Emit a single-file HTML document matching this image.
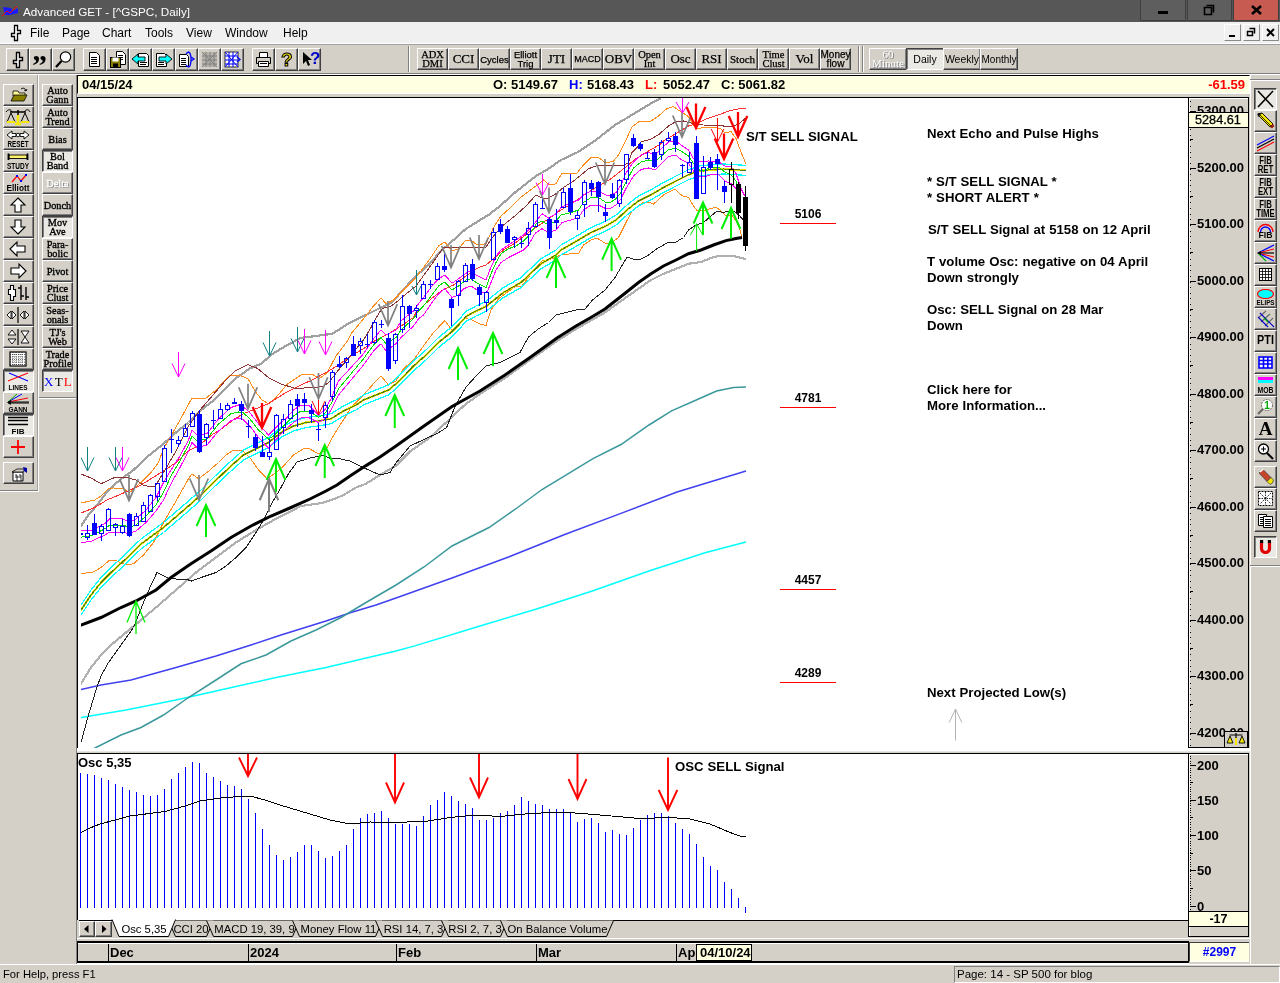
<!DOCTYPE html>
<html><head><meta charset="utf-8"><title>Advanced GET - [^GSPC, Daily]</title>
<style>
*{box-sizing:border-box;margin:0;padding:0}
html,body{width:1280px;height:983px;overflow:hidden;background:#d4d0c8;font-family:"Liberation Sans",sans-serif;font-size:12px;color:#000}
.a{position:absolute}
.tb{position:absolute;background:#d4d0c8;border:1px solid;border-color:#fff #404040 #404040 #fff;box-shadow:inset -1px -1px 0 #808080}
.tb.p{border-color:#404040 #fff #fff #404040;box-shadow:inset 1px 1px 0 #808080;background:#ebe9e4}
.tb svg{position:absolute;left:0;top:0}
.st{font-family:"Liberation Serif",serif;font-size:11px;line-height:9px;text-align:center;display:flex;align-items:center;justify-content:center;letter-spacing:.3px}
.ann{position:absolute;font-weight:bold;font-size:13.2px;line-height:16px;white-space:pre;word-spacing:.3px}
.sc{position:absolute;font-weight:bold;font-size:13px;line-height:14px;left:1197px;white-space:pre}
.lv{position:absolute;font-weight:bold;font-size:12px;width:56px;text-align:center;border-bottom:1px solid #f00;height:17px;line-height:14px}
.cream{background:#ffffe1}
</style></head>
<body>
<div class="a" style="left:0;top:0;width:1280px;height:22px;background:#575757"></div>
<svg class="a" style="left:2px;top:5px" width="18" height="12"><polygon points="1,2 9,3 11,6 16,3 16,8 8,10 3,10" fill="#1a1aff"/><polyline points="0,11 5,6 8,8 15,1" stroke="#f00" fill="none" stroke-width="1"/></svg>
<div class="a" style="left:23px;top:3px;font-size:11.7px;color:#fff;line-height:18px">Advanced GET - [^GSPC, Daily]</div>
<div class="a" style="left:1140px;top:0;width:46px;height:21px;background:#5e5e5e;border:1px solid #3f3f3f;border-top:0"></div>
<div class="a" style="left:1187px;top:0;width:45px;height:21px;background:#5e5e5e;border:1px solid #3f3f3f;border-top:0"></div>
<div class="a" style="left:1233px;top:0;width:46px;height:21px;background:#c75b52;border:1px solid #3f3f3f;border-top:0"></div>
<div class="a" style="left:1158px;top:11px;width:10px;height:3px;background:#000"></div>
<svg class="a" style="left:1203px;top:4px" width="13" height="13"><path d="M3.5 1.5h7v7M1.5 3.5h7v7h-7z" stroke="#000" stroke-width="1.6" fill="none"/></svg>
<svg class="a" style="left:1251px;top:5px" width="11" height="10"><path d="M1 1L10 9M10 1L1 9" stroke="#000" stroke-width="2.6" fill="none"/></svg>
<div class="a" style="left:0;top:22px;width:1280px;height:21px;background:#f0f0f0"></div>
<div class="a" style="left:0;top:43px;width:1280px;height:1px;background:#fff"></div>
<div class="a" style="left:0;top:44px;width:1280px;height:1px;background:#a0a0a0"></div>
<svg class="a" style="left:8px;top:24px" width="14" height="18"><path d="M6.500 1.500h3v5h3v3h-3v7h-3v-4h-3v-3h3z" fill="#fff" stroke="#000" stroke-width="1.300"/></svg>
<div class="a" style="left:30px;top:26px;font-size:12px;line-height:15px">File</div>
<div class="a" style="left:62px;top:26px;font-size:12px;line-height:15px">Page</div>
<div class="a" style="left:102px;top:26px;font-size:12px;line-height:15px">Chart</div>
<div class="a" style="left:145px;top:26px;font-size:12px;line-height:15px">Tools</div>
<div class="a" style="left:186px;top:26px;font-size:12px;line-height:15px">View</div>
<div class="a" style="left:225px;top:26px;font-size:12px;line-height:15px">Window</div>
<div class="a" style="left:283px;top:26px;font-size:12px;line-height:15px">Help</div>
<div class="a" style="left:1224px;top:24px;width:17px;height:17px;background:#f0f0f0;border:1px solid;border-color:#fff #8a8a8a #8a8a8a #fff"></div>
<div class="a" style="left:1243px;top:24px;width:17px;height:17px;background:#f0f0f0;border:1px solid;border-color:#fff #8a8a8a #8a8a8a #fff"></div>
<div class="a" style="left:1262px;top:24px;width:17px;height:17px;background:#f0f0f0;border:1px solid;border-color:#fff #8a8a8a #8a8a8a #fff"></div>
<div class="a" style="left:1229px;top:35px;width:6px;height:2px;background:#000"></div>
<svg class="a" style="left:1246px;top:27px" width="11" height="11"><path d="M3.5 1.5h5v5M1.5 4.5h5v4h-5z" stroke="#000" stroke-width="1.5" fill="none"/></svg>
<svg class="a" style="left:1266px;top:28px" width="9" height="9"><path d="M1 1L8 8M8 1L1 8" stroke="#000" stroke-width="2" fill="none"/></svg>
<div class="a" style="left:0;top:73px;width:1280px;height:1px;background:#808080"></div>
<div class="a" style="left:0;top:74px;width:1280px;height:1px;background:#fff"></div>
<div class="a" style="left:408px;top:46px;width:1px;height:26px;background:#808080"></div><div class="a" style="left:409px;top:46px;width:1px;height:26px;background:#fff"></div>
<div class="a" style="left:858px;top:46px;width:1px;height:26px;background:#808080"></div><div class="a" style="left:859px;top:46px;width:1px;height:26px;background:#fff"></div>
<div class="a" style="left:862px;top:46px;width:1px;height:26px;background:#808080"></div><div class="a" style="left:863px;top:46px;width:1px;height:26px;background:#fff"></div>
<div class="tb " style="left:6px;top:48px;width:23px;height:23px;"><svg width="21" height="21" viewBox="0 0 21 21"><path d="M9.500 3.500h3v5h3v3h-3v7h-3v-4h-3v-3h3z" fill="#fff" stroke="#000" stroke-width="1.400"/></svg></div>
<div class="tb " style="left:29px;top:48px;width:23px;height:23px;"><div class="a" style="left:2px;top:1px;font-family:'Liberation Serif',serif;font-weight:bold;font-size:30px;line-height:30px;letter-spacing:-1px">&#8221;</div></div>
<div class="tb " style="left:52px;top:48px;width:23px;height:23px;"><svg width="21" height="21" viewBox="0 0 21 21"><circle cx="12.5" cy="8" r="5.2" fill="#fff" stroke="#000" stroke-width="1.2"/><path d="M8.5 12L3 18" stroke="#000" stroke-width="2.2"/></svg></div>
<div class="tb " style="left:83px;top:48px;width:23px;height:23px;"><svg width="21" height="21" viewBox="0 0 21 21"><path d="M5.5 3.5h7l3 3v11h-10z" fill="#fff" stroke="#000"/><path d="M7 8.500h6M7 10.500h6M7 12.500h6M7 14.500h6" stroke="#000" stroke-width="1" shape-rendering="crispEdges"/></svg></div>
<div class="tb " style="left:106px;top:48px;width:23px;height:23px;"><svg width="21" height="21" viewBox="0 0 21 21"><path d="M9.5 2.5h6l3 3v10h-9z" fill="#fff" stroke="#000"/><path d="M11 6.500h5M11 8.500h5M11 10.500h5" stroke="#000" stroke-width="1" shape-rendering="crispEdges"/><rect x="3.5" y="8.5" width="10" height="10" fill="#8a8000" stroke="#000"/><rect x="5.5" y="8.5" width="6" height="4" fill="#fff"/><rect x="6" y="14.500" width="5" height="4" fill="#000"/></svg></div>
<div class="tb " style="left:129px;top:48px;width:23px;height:23px;"><svg width="21" height="21" viewBox="0 0 21 21"><path d="M8.500 4.500h8l2 2v11h-10z" fill="#fff" stroke="#000"/><path d="M10 13.500h7M10 15.500h6" stroke="#000" stroke-width="1" shape-rendering="crispEdges"/><path d="M2 10l6-5v3h7v4h-7v3z" fill="#0ff" stroke="#000" stroke-width=".9"/></svg></div>
<div class="tb " style="left:152px;top:48px;width:23px;height:23px;"><svg width="21" height="21" viewBox="0 0 21 21"><path d="M3.500 4.500h8l2 2v11h-10z" fill="#fff" stroke="#000"/><path d="M5 13.500h6M5 15.500h6" stroke="#000" stroke-width="1" shape-rendering="crispEdges"/><path d="M19 10l-6-5v3h-7v4h7v3z" fill="#0ff" stroke="#000" stroke-width=".9"/></svg></div>
<div class="tb " style="left:175px;top:48px;width:23px;height:23px;"><svg width="21" height="21" viewBox="0 0 21 21"><path d="M3.500 5.500h7l2 2v10h-9z" fill="#fff" stroke="#000"/><path d="M5 9.500h5M5 11.500h5M5 13.500h5M5 15.500h5" stroke="#000" stroke-width="1" shape-rendering="crispEdges"/><path d="M12 3c4 0 4 15 0 15M12 3l-2 2M12 18l-2-2M15 8l3 2-3 2" stroke="#00f" stroke-width="1.3" fill="none"/></svg></div>
<div class="tb " style="left:198px;top:48px;width:23px;height:23px;"><svg width="21" height="21" viewBox="0 0 21 21"><rect x="3" y="3" width="15" height="15" fill="#b8b4ac"/><path d="M3 3l15 15M18 3l-15 15M3 7h15M3 11h15M3 15h15M7 3v15M11 3v15M15 3v15" stroke="#808080" stroke-width="1"/></svg></div>
<div class="tb " style="left:221px;top:48px;width:23px;height:23px;"><svg width="21" height="21" viewBox="0 0 21 21"><rect x="3" y="3" width="13" height="15" fill="#fff" stroke="#000" stroke-width=".8"/><path d="M3 3l13 15M16 3l-13 15M3 7h13M3 11h13M3 15h13M7 3v15M11 3v15" stroke="#00f" stroke-width="1"/><path d="M15 8l3 2.500-3 2.500" stroke="#00f" fill="none" stroke-width="1.3"/></svg></div>
<div class="tb " style="left:252px;top:48px;width:23px;height:23px;"><svg width="21" height="21" viewBox="0 0 21 21"><path d="M6.500 3.500h8v5h-8z" fill="#fff" stroke="#000"/><path d="M3.500 8.500h14v6h-14z" fill="#d4d0c8" stroke="#000"/><path d="M5.500 12.500h10v5h-10z" fill="#fff" stroke="#000"/><path d="M7 14.500h7" stroke="#000" stroke-width="1" shape-rendering="crispEdges"/></svg></div>
<div class="tb " style="left:275px;top:48px;width:23px;height:23px;"><div class="a" style="left:5px;top:0px;font-weight:bold;font-size:19px;line-height:21px;color:#e8d800;-webkit-text-stroke:1px #000">?</div></div>
<div class="tb " style="left:298px;top:48px;width:23px;height:23px;"><svg width="21" height="21" viewBox="0 0 21 21"><path d="M4 3v12l3-3 2 5 2-1-2-5h4z" fill="#000"/></svg><div class="a" style="left:11px;top:0px;font-weight:bold;font-size:17px;line-height:19px;color:#00c">?</div></div>
<div class="tb st" style="left:417px;top:48px;width:31px;height:22px;font-size:10.5px;font-family:'Liberation Serif',serif;line-height:9px;letter-spacing:0;-webkit-text-stroke:.25px currentColor">ADX<br>DMI</div>
<div class="tb st" style="left:448px;top:48px;width:31px;height:22px;font-size:13px;font-family:'Liberation Serif',serif;line-height:14px;letter-spacing:0;-webkit-text-stroke:.25px currentColor">CCI</div>
<div class="tb st" style="left:479px;top:48px;width:31px;height:22px;font-size:9.5px;font-family:'Liberation Sans',sans-serif;line-height:9px;letter-spacing:0;-webkit-text-stroke:.25px currentColor">Cycles</div>
<div class="tb st" style="left:510px;top:48px;width:31px;height:22px;font-size:9.5px;font-family:'Liberation Sans',sans-serif;line-height:9px;letter-spacing:0;-webkit-text-stroke:.25px currentColor">Elliott<br>Trig</div>
<div class="tb st" style="left:541px;top:48px;width:31px;height:22px;font-size:13px;font-family:'Liberation Serif',serif;line-height:14px;letter-spacing:0;-webkit-text-stroke:.25px currentColor">JTI</div>
<div class="tb st" style="left:572px;top:48px;width:31px;height:22px;font-size:9px;font-family:'Liberation Sans',sans-serif;line-height:9px;letter-spacing:0;-webkit-text-stroke:.25px currentColor">MACD</div>
<div class="tb st" style="left:603px;top:48px;width:31px;height:22px;font-size:13px;font-family:'Liberation Serif',serif;line-height:14px;letter-spacing:0;-webkit-text-stroke:.25px currentColor">OBV</div>
<div class="tb st" style="left:634px;top:48px;width:31px;height:22px;font-size:10.5px;font-family:'Liberation Serif',serif;line-height:9px;letter-spacing:0;-webkit-text-stroke:.25px currentColor">Open<br>Int</div>
<div class="tb st" style="left:665px;top:48px;width:31px;height:22px;font-size:13px;font-family:'Liberation Serif',serif;line-height:14px;letter-spacing:0;-webkit-text-stroke:.25px currentColor">Osc</div>
<div class="tb st" style="left:696px;top:48px;width:31px;height:22px;font-size:13px;font-family:'Liberation Serif',serif;line-height:14px;letter-spacing:0;-webkit-text-stroke:.25px currentColor">RSI</div>
<div class="tb st" style="left:727px;top:48px;width:31px;height:22px;font-size:11px;font-family:'Liberation Serif',serif;line-height:9px;letter-spacing:0;-webkit-text-stroke:.25px currentColor">Stoch</div>
<div class="tb st" style="left:758px;top:48px;width:31px;height:22px;font-size:10.5px;font-family:'Liberation Serif',serif;line-height:9px;letter-spacing:0;-webkit-text-stroke:.25px currentColor">Time<br>Clust</div>
<div class="tb st" style="left:789px;top:48px;width:31px;height:22px;font-size:13px;font-family:'Liberation Serif',serif;line-height:14px;letter-spacing:0;-webkit-text-stroke:.25px currentColor">Vol</div>
<div class="tb st" style="left:820px;top:48px;width:31px;height:22px;font-size:10px;font-family:'Liberation Sans',sans-serif;line-height:9px;letter-spacing:0;-webkit-text-stroke:.25px currentColor">Money<br>flow</div>
<div class="tb st " style="left:869px;top:48px;width:38px;height:22px;font-family:'Liberation Sans',sans-serif;line-height:9px;letter-spacing:0;color:#fff;text-shadow:1px 1px 0 #808080;font-family:'Liberation Serif',serif;font-size:11px">60<br>Minute</div>
<div class="tb st p" style="left:906px;top:48px;width:38px;height:22px;font-family:'Liberation Sans',sans-serif;line-height:9px;letter-spacing:0;font-size:10.500px">Daily</div>
<div class="tb st " style="left:943px;top:48px;width:38px;height:22px;font-family:'Liberation Sans',sans-serif;line-height:9px;letter-spacing:0;font-size:10.500px">Weekly</div>
<div class="tb st " style="left:980px;top:48px;width:38px;height:22px;font-family:'Liberation Sans',sans-serif;line-height:9px;letter-spacing:0;font-size:10px">Monthly</div>
<div class="a" style="left:37px;top:75px;width:1px;height:416px;background:#a0a0a0"></div><div class="a" style="left:38px;top:75px;width:1px;height:417px;background:#fff"></div>
<div class="a" style="left:39px;top:397px;width:38px;height:1px;background:#808080"></div><div class="a" style="left:39px;top:398px;width:38px;height:1px;background:#fff"></div>
<div class="a" style="left:0px;top:490px;width:38px;height:1px;background:#808080"></div><div class="a" style="left:0px;top:491px;width:39px;height:1px;background:#fff"></div>
<div class="a" style="left:76px;top:75px;width:1px;height:890px;background:#808080"></div>
<div class="tb " style="left:3px;top:84px;width:31px;height:22px;"><svg width="28" height="20" viewBox="0 0 28 20"><path d="M9 6h5l1 2h6v3h-12z" fill="#fffa9a" stroke="#000" stroke-width=".8"/><path d="M7 16l3-6h13l-3 6z" fill="#8a8000" stroke="#000" stroke-width=".8"/><path d="M17 4c3-2 5 0 5 2M22 6l-2-1M22 6l1-2" stroke="#000" fill="none" stroke-width=".9"/></svg></div>
<div class="tb " style="left:3px;top:106px;width:31px;height:22px;"><svg width="28" height="20" viewBox="0 0 28 20"><path d="M14 3v14M6 5h16" stroke="#000" stroke-width="1.5"/><path d="M14 8v9M11 17h6" stroke="#f5e800" stroke-width="2.5"/><path d="M3 15l4-9 4 9zM17 15l4-9 4 9z" fill="none" stroke="#000" stroke-width="1"/><path d="M3 15h8M17 15h8" stroke="#f5e800" stroke-width="2"/><path d="M2 5c2-3 5-3 6 0M20 5c2-3 5-3 6 0" stroke="#000" fill="none"/></svg></div>
<div class="tb " style="left:3px;top:128px;width:31px;height:22px;"><svg width="28" height="20" viewBox="0 0 28 20"><path d="M3 6l5-4v2.500h4v3h-4v2.500zM25 6l-5-4v2.500h-4v3h4v2.500z" fill="#fff" stroke="#000" stroke-width=".9"/><circle cx="14" cy="6" r="1.800" fill="#fff" stroke="#000" stroke-width=".9"/><text x="14" y="17.500" font-size="8.500" textLength="21" font-weight="bold" text-anchor="middle" lengthAdjust="spacingAndGlyphs" font-family="Liberation Sans,sans-serif">RESET</text></svg></div>
<div class="tb " style="left:3px;top:150px;width:31px;height:22px;"><svg width="28" height="20" viewBox="0 0 28 20"><rect x="5" y="4" width="18" height="3.500" fill="#fff36a" stroke="#000" stroke-width=".9"/><path d="M4.500 2.500v6.500M23.500 2.500v6.500" stroke="#000" stroke-width="1.800"/><text x="14" y="17.500" font-size="8.500" textLength="22" font-weight="bold" text-anchor="middle" lengthAdjust="spacingAndGlyphs" font-family="Liberation Sans,sans-serif">STUDY</text></svg></div>
<div class="tb " style="left:3px;top:172px;width:31px;height:22px;"><svg width="28" height="20" viewBox="0 0 28 20"><path d="M8 9l5-6 4 5 5-6" stroke="#f00" fill="none" stroke-width="1.200"/><rect x="12" y="2" width="2" height="2" fill="#00f"/><rect x="16" y="7" width="2" height="2" fill="#00f"/><rect x="21" y="1" width="2" height="2" fill="#00f"/><text x="14" y="18" font-size="9" textLength="23" font-weight="bold" text-anchor="middle" lengthAdjust="spacingAndGlyphs" font-family="Liberation Sans,sans-serif">Elliott</text></svg></div>
<div class="tb " style="left:3px;top:194px;width:31px;height:22px;"><svg width="28" height="20" viewBox="0 0 28 20"><path d="M14 3l7 7h-4v7h-6v-7h-4z" fill="#fff" stroke="#000" stroke-width="1.100"/></svg></div>
<div class="tb " style="left:3px;top:216px;width:31px;height:22px;"><svg width="28" height="20" viewBox="0 0 28 20"><path d="M14 17l7-7h-4v-7h-6v7h-4z" fill="#fff" stroke="#000" stroke-width="1.100"/></svg></div>
<div class="tb " style="left:3px;top:238px;width:31px;height:22px;"><svg width="28" height="20" viewBox="0 0 28 20"><path d="M6 10l7-7v4h8v6h-8v4z" fill="#fff" stroke="#000" stroke-width="1.100"/></svg></div>
<div class="tb " style="left:3px;top:260px;width:31px;height:22px;"><svg width="28" height="20" viewBox="0 0 28 20"><path d="M22 10l-7-7v4h-8v6h8v4z" fill="#fff" stroke="#000" stroke-width="1.100"/></svg></div>
<div class="tb " style="left:3px;top:282px;width:31px;height:22px;"><svg width="28" height="20" viewBox="0 0 28 20"><path d="M6.500 2.500h3v4h2v7h-2v4h-3v-6h-2v-5h2z" fill="#fff" stroke="#000" stroke-width="1.100"/><path d="M17 2v15M14 5h3M17 13h3M22 4v13M22 14h3" stroke="#000" stroke-width="1.400" fill="none"/></svg></div>
<div class="tb " style="left:3px;top:304px;width:31px;height:22px;"><svg width="28" height="20" viewBox="0 0 28 20"><path d="M14 2v16" stroke="#000" stroke-width="1.200"/><path d="M3 10l4-4v8zM12 10l-4-4v8zM16 10l4-4v8zM25 10l-4-4v8z" fill="#fff" stroke="#000" stroke-width=".9"/></svg></div>
<div class="tb " style="left:3px;top:326px;width:31px;height:22px;"><svg width="28" height="20" viewBox="0 0 28 20"><path d="M14 2v16" stroke="#000" stroke-width="1.200"/><path d="M8 3l4 5h-8zM8 17l4-5h-8zM17 4h8l-8 12h8z" fill="#fff" stroke="#000" stroke-width=".9"/></svg></div>
<div class="tb " style="left:3px;top:348px;width:31px;height:22px;"><svg width="28" height="20" viewBox="0 0 28 20"><rect x="6" y="3" width="16" height="14" fill="#fff" stroke="#000" stroke-width="1.200"/><path d="M6 5.500h16M6 8h16M6 10.500h16M6 13h16M6 15.500h16" stroke="#000" stroke-width=".6" stroke-dasharray="1 1"/><path d="M9 3v14M12 3v14M15 3v14M18 3v14" stroke="#000" stroke-width=".6" stroke-dasharray="1 1"/></svg></div>
<div class="tb p" style="left:3px;top:370px;width:31px;height:22px;"><svg width="28" height="20" viewBox="0 0 28 20"><path d="M5 2l19 8" stroke="#00f" stroke-width="1.100"/><path d="M4 10l20-8" stroke="#f00" stroke-width="1.100"/><text x="14" y="18.500" font-size="8" textLength="19" font-weight="bold" text-anchor="middle" lengthAdjust="spacingAndGlyphs" font-family="Liberation Sans,sans-serif">LINES</text></svg></div>
<div class="tb " style="left:3px;top:392px;width:31px;height:22px;"><svg width="28" height="20" viewBox="0 0 28 20"><path d="M4 9l14-8" stroke="#00f"/><path d="M4 9l20-4" stroke="#f00"/><path d="M4 9l9-8" stroke="#0a0"/><path d="M4 9h21M4 10h21" stroke="#000"/><path d="M3 9.500l4-2.500v5z" fill="#000"/><text x="14" y="18.500" font-size="8" textLength="19" font-weight="bold" text-anchor="middle" lengthAdjust="spacingAndGlyphs" font-family="Liberation Sans,sans-serif">GANN</text></svg></div>
<div class="tb p" style="left:3px;top:414px;width:31px;height:22px;"><svg width="28" height="20" viewBox="0 0 28 20"><path d="M4 2.500h20M4 5.500h20M4 9.500h20" stroke="#000" stroke-width="1.300"/><text x="14" y="18.500" font-size="8" font-weight="bold" text-anchor="middle" font-family="Liberation Sans,sans-serif">FIB</text></svg></div>
<div class="tb " style="left:3px;top:436px;width:31px;height:22px;"><svg width="28" height="20" viewBox="0 0 28 20"><path d="M14 3v14M7 10h14" stroke="#f00" stroke-width="1.800"/></svg></div>
<div class="tb " style="left:3px;top:462px;width:31px;height:22px;"><svg width="28" height="20" viewBox="0 0 28 20"><path d="M9 9h10v9h-10z" fill="#fff" stroke="#000"/><path d="M8 9l5-3h8l-2 3z" fill="#d4d0c8" stroke="#000" stroke-width=".8"/><path d="M19 4l4 1v5l-3-2z" fill="#00a"/><path d="M11 12h2v6M15 12h2v6M11 14h6" stroke="#000" stroke-width=".8" fill="none"/></svg></div>
<div class="tb st" style="left:42px;top:84px;width:31px;height:22px;font-weight:normal;font-size:10.300px;letter-spacing:0;-webkit-text-stroke:.35px currentColor;">Auto<br>Gann</div>
<div class="tb st" style="left:42px;top:106px;width:31px;height:22px;font-weight:normal;font-size:10.300px;letter-spacing:0;-webkit-text-stroke:.35px currentColor;">Auto<br>Trend</div>
<div class="tb st" style="left:42px;top:128px;width:31px;height:22px;font-weight:normal;font-size:10.300px;letter-spacing:0;-webkit-text-stroke:.35px currentColor;">Bias</div>
<div class="tb st p" style="left:42px;top:150px;width:31px;height:22px;font-weight:normal;font-size:10.300px;letter-spacing:0;-webkit-text-stroke:.35px currentColor;">Bol<br>Band</div>
<div class="tb st" style="left:42px;top:172px;width:31px;height:22px;font-weight:normal;font-size:10.300px;letter-spacing:0;-webkit-text-stroke:.35px currentColor;color:#fff;text-shadow:1px 1px 0 #808080;">Delta</div>
<div class="tb st" style="left:42px;top:194px;width:31px;height:22px;font-weight:normal;font-size:10.300px;letter-spacing:0;-webkit-text-stroke:.35px currentColor;">Donch</div>
<div class="tb st p" style="left:42px;top:216px;width:31px;height:22px;font-weight:normal;font-size:10.300px;letter-spacing:0;-webkit-text-stroke:.35px currentColor;">Mov<br>Ave</div>
<div class="tb st" style="left:42px;top:238px;width:31px;height:22px;font-weight:normal;font-size:10.300px;letter-spacing:0;-webkit-text-stroke:.35px currentColor;">Para-<br>bolic</div>
<div class="tb st" style="left:42px;top:260px;width:31px;height:22px;font-weight:normal;font-size:10.300px;letter-spacing:0;-webkit-text-stroke:.35px currentColor;">Pivot</div>
<div class="tb st" style="left:42px;top:282px;width:31px;height:22px;font-weight:normal;font-size:10.300px;letter-spacing:0;-webkit-text-stroke:.35px currentColor;">Price<br>Clust</div>
<div class="tb st" style="left:42px;top:304px;width:31px;height:22px;font-weight:normal;font-size:10.300px;letter-spacing:0;-webkit-text-stroke:.35px currentColor;">Seas-<br>onals</div>
<div class="tb st" style="left:42px;top:326px;width:31px;height:22px;font-weight:normal;font-size:10.300px;letter-spacing:0;-webkit-text-stroke:.35px currentColor;">TJ's<br>Web</div>
<div class="tb st" style="left:42px;top:348px;width:31px;height:22px;font-weight:normal;font-size:10.300px;letter-spacing:0;-webkit-text-stroke:.35px currentColor;">Trade<br>Profile</div>
<div class="tb st p" style="left:42px;top:370px;width:31px;height:22px;font-weight:normal;font-size:10.300px;letter-spacing:0;-webkit-text-stroke:.35px currentColor;font-size:13px;letter-spacing:1.200px;font-weight:normal;padding-left:2px;-webkit-text-stroke:0;"><span style="color:#00f">X</span><span>T</span><span style="color:#f00">L</span></div>
<div class="a cream" style="left:77px;top:75px;width:1173px;height:19px;border-top:1px solid #000;border-left:1px solid #000;border-bottom:1px solid #fff;border-right:1px solid #fff"></div>
<div class="a" style="left:82px;top:77px;font-weight:bold;font-size:13px;line-height:15px;color:#000;white-space:pre">04/15/24</div>
<div class="a" style="left:493px;top:77px;font-weight:bold;font-size:13px;line-height:15px;color:#000;white-space:pre">O: 5149.67</div>
<div class="a" style="left:569px;top:77px;font-weight:bold;font-size:13px;line-height:15px;color:#00f;white-space:pre">H:</div>
<div class="a" style="left:587px;top:77px;font-weight:bold;font-size:13px;line-height:15px;color:#000;white-space:pre">5168.43</div>
<div class="a" style="left:645px;top:77px;font-weight:bold;font-size:13px;line-height:15px;color:#f00;white-space:pre">L:</div>
<div class="a" style="left:663px;top:77px;font-weight:bold;font-size:13px;line-height:15px;color:#000;white-space:pre">5052.47</div>
<div class="a" style="left:721px;top:77px;font-weight:bold;font-size:13px;line-height:15px;color:#000;white-space:pre">C: 5061.82</div>
<div class="a" style="right:35px;top:77px;font-weight:bold;font-size:13px;line-height:15px;color:#f00;white-space:pre">-61.59</div>
<div class="a" style="left:1250px;top:75px;width:1px;height:890px;background:#fff"></div>
<div class="a" style="left:1250px;top:79px;width:30px;height:1px;background:#808080"></div><div class="a" style="left:1250px;top:80px;width:30px;height:1px;background:#fff"></div>
<div class="a" style="left:1250px;top:565px;width:30px;height:1px;background:#808080"></div><div class="a" style="left:1250px;top:566px;width:30px;height:1px;background:#fff"></div>
<div class="tb p" style="left:1254px;top:88px;width:23px;height:22px;"><svg width="21" height="20" viewBox="0 0 21 20"><path d="M3 2l15 16M18 2l-15 16" stroke="#000" stroke-width="1.600"/></svg></div>
<div class="tb " style="left:1254px;top:110px;width:23px;height:22px;"><svg width="21" height="20" viewBox="0 0 21 20"><path d="M3 3l4-1 11 11-3 3-11-11z" fill="#f5e800" stroke="#000" stroke-width=".9"/><path d="M2.500 2.500l4.500-.500-4 4z" fill="#000"/><path d="M15 16l3-3 1.500 2-2.500 2.500z" fill="#a02010"/><path d="M5 4l11 11" stroke="#000" stroke-width=".8"/></svg></div>
<div class="tb " style="left:1254px;top:132px;width:23px;height:22px;"><svg width="21" height="20" viewBox="0 0 21 20"><path d="M2 12l17-9" stroke="#00f" stroke-width="1.200"/><path d="M2 15l17-9" stroke="#000" stroke-width="1.200"/><path d="M2 18l17-9" stroke="#f00" stroke-width="1.200"/></svg></div>
<div class="tb " style="left:1254px;top:154px;width:23px;height:22px;"><div style="font-size:10px;line-height:9px;font-weight:bold;text-align:center;padding-top:1px;letter-spacing:0;transform:scaleX(.78);transform-origin:50% 50%;width:27px;margin-left:-3px">FIB<br>RET</div></div>
<div class="tb " style="left:1254px;top:176px;width:23px;height:22px;"><div style="font-size:10px;line-height:9px;font-weight:bold;text-align:center;padding-top:1px;letter-spacing:0;transform:scaleX(.78);transform-origin:50% 50%;width:27px;margin-left:-3px">FIB<br>EXT</div></div>
<div class="tb " style="left:1254px;top:198px;width:23px;height:22px;"><div style="font-size:10px;line-height:9px;font-weight:bold;text-align:center;padding-top:1px;letter-spacing:0;transform:scaleX(.78);transform-origin:50% 50%;width:27px;margin-left:-3px">FIB<br>TIME</div></div>
<div class="tb " style="left:1254px;top:220px;width:23px;height:22px;"><svg width="21" height="20" viewBox="0 0 21 20"><path d="M3 11a7.500 7.500 0 0 1 15 0" stroke="#f00" fill="none" stroke-width="1.300"/><path d="M5.500 11a5 5 0 0 1 10 0" stroke="#00f" fill="none" stroke-width="1.300"/><text x="10.500" y="17" font-size="9" font-weight="bold" text-anchor="middle" textLength="14" lengthAdjust="spacingAndGlyphs" font-family="Liberation Sans,sans-serif">FIB</text></svg></div>
<div class="tb " style="left:1254px;top:242px;width:23px;height:22px;"><svg width="21" height="20" viewBox="0 0 21 20"><path d="M3 10l16-8" stroke="#00f" stroke-width="1.200"/><path d="M3 10l16-4" stroke="#f00" stroke-width="1.200"/><path d="M3 10h16" stroke="#000" stroke-width="1.200"/><path d="M3 10l16 4" stroke="#f00" stroke-width="1.200"/><path d="M3 10l16 8" stroke="#00f" stroke-width="1.200"/><path d="M3 10l8 8" stroke="#0a0" stroke-width="1.200"/><path d="M2 10l4-2v4z" fill="#000"/></svg></div>
<div class="tb " style="left:1254px;top:264px;width:23px;height:22px;"><svg width="21" height="20" viewBox="0 0 21 20"><rect x="4.500" y="3.500" width="12" height="12" fill="#fff" stroke="#000"/><path d="M4 6.500h13M4 9.500h13M4 12.500h13M7.500 3v13M10.500 3v13M13.500 3v13" stroke="#000" stroke-width=".8"/></svg></div>
<div class="tb " style="left:1254px;top:286px;width:23px;height:22px;"><svg width="21" height="20" viewBox="0 0 21 20"><ellipse cx="10.500" cy="7" rx="8" ry="4.500" fill="#0ff" stroke="#f00" stroke-width="1.200"/><text x="10.500" y="18" font-size="7.500" font-weight="bold" text-anchor="middle" textLength="18" lengthAdjust="spacingAndGlyphs" font-family="Liberation Sans,sans-serif">ELIPS</text></svg></div>
<div class="tb " style="left:1254px;top:308px;width:23px;height:22px;"><svg width="21" height="20" viewBox="0 0 21 20"><path d="M3 9l8-7M6 13l9-8M10 17l8-8" stroke="#666" stroke-width="1.100"/><path d="M5 4l14 14M3 8l10 10" stroke="#00c" stroke-width="1.100"/><path d="M9 9l4 4" stroke="#0a0" stroke-width="1.200"/></svg></div>
<div class="tb " style="left:1254px;top:330px;width:23px;height:22px;"><div style="font-size:12px;line-height:19px;font-weight:bold;text-align:center;transform:scaleX(.9)">PTI</div></div>
<div class="tb " style="left:1254px;top:352px;width:23px;height:22px;"><svg width="21" height="20" viewBox="0 0 21 20"><rect x="4" y="4" width="13" height="11" fill="#fff" stroke="#00f" stroke-width="1.600"/><path d="M4 7.500h13M4 11h13M8.500 4v11M12.800 4v11" stroke="#00f" stroke-width="1.600"/></svg></div>
<div class="tb " style="left:1254px;top:374px;width:23px;height:22px;"><svg width="21" height="20" viewBox="0 0 21 20"><rect x="3" y="2" width="15" height="3" fill="#f0f"/><rect x="3" y="5" width="15" height="3" fill="#0ff"/><text x="10.500" y="17.500" font-size="9.500" font-weight="bold" text-anchor="middle" textLength="16" lengthAdjust="spacingAndGlyphs" font-family="Liberation Sans,sans-serif">MOB</text></svg></div>
<div class="tb " style="left:1254px;top:396px;width:23px;height:22px;"><svg width="21" height="20" viewBox="0 0 21 20"><circle cx="12" cy="8" r="5.500" fill="#fff" stroke="#666" stroke-dasharray="2 1"/><path d="M8 12l-5 5" stroke="#666" stroke-width="2"/><text x="12" y="12" font-size="10" font-weight="bold" text-anchor="middle" fill="#0a0" font-family="Liberation Sans,sans-serif">1</text></svg></div>
<div class="tb " style="left:1254px;top:418px;width:23px;height:22px;"><div style="font-family:'Liberation Serif',serif;font-size:19px;line-height:19px;font-weight:bold;text-align:center">A</div></div>
<div class="tb " style="left:1254px;top:440px;width:23px;height:22px;"><svg width="21" height="20" viewBox="0 0 21 20"><circle cx="8.500" cy="8" r="5" fill="#fff" stroke="#000" stroke-width="1.300"/><path d="M12 12l6 6" stroke="#000" stroke-width="2.200"/><path d="M6 8h5M8.500 5.500v5" stroke="#000" stroke-width="1"/></svg></div>
<div class="tb " style="left:1254px;top:466px;width:23px;height:22px;"><svg width="21" height="20" viewBox="0 0 21 20"><path d="M4 6l4-3.500 8 8-4 4z" fill="#c8452c" stroke="#444" stroke-width=".8"/><path d="M12 14.500l4-4 2.500 2.500-1 3-2.500 1.500z" fill="#f5e800" stroke="#444" stroke-width=".8"/><path d="M5 5l3.500-3" stroke="#fff" stroke-width="1.200"/></svg></div>
<div class="tb " style="left:1254px;top:488px;width:23px;height:22px;"><svg width="21" height="20" viewBox="0 0 21 20"><rect x="3.500" y="2.500" width="14" height="14" fill="#fff" stroke="#000" stroke-dasharray="2 1"/><path d="M5 4l11 11M16 4l-11 11M10.500 3v13M4 9.500h13" stroke="#000" stroke-width=".8" stroke-dasharray="1.500 1"/></svg></div>
<div class="tb " style="left:1254px;top:510px;width:23px;height:22px;"><svg width="21" height="20" viewBox="0 0 21 20"><path d="M3.500 3.500h8v11h-8z" fill="#fff" stroke="#000"/><path d="M8.500 5.500h9v11h-9z" fill="#fff" stroke="#000"/><path d="M5 6.500h3M5 8.500h3M5 10.500h3M5 12.500h3M10 8.500h6M10 10.500h6M10 12.500h6M10 14.500h6" stroke="#000" stroke-width="1" shape-rendering="crispEdges"/></svg></div>
<div class="tb p" style="left:1254px;top:536px;width:23px;height:22px;"><svg width="21" height="20" viewBox="0 0 21 20"><path d="M6.500 5v6.500a4 4 0 0 0 8 0v-6.500" stroke="#e00000" stroke-width="3.200" fill="none"/><path d="M5 3h3.200v3h-3.200zM12.800 3h3.200v3h-3.200z" fill="#000"/></svg></div>
<div class="a" style="left:0;top:964px;width:1280px;height:1px;background:#fff"></div>
<div class="a" style="left:3px;top:967px;font-size:11.200px;line-height:15px">For Help, press F1</div>
<div class="a" style="left:954px;top:966px;width:326px;height:17px;border:1px solid;border-color:#808080 #fff #fff #808080"></div>
<div class="a" style="left:957px;top:967px;font-size:11.500px;line-height:15px">Page: 14 - SP 500 for blog</div>
<div class="a" style="left:77px;top:97px;width:1111px;height:651px;background:#fff;border:1px solid #000;border-right:0;border-bottom:0"></div>
<div class="a" style="left:77px;top:748px;width:1173px;height:3px;background:#fff"></div><div class="a" style="left:77px;top:751px;width:1173px;height:1px;background:#e8e6e0"></div>
<div class="a" style="left:77px;top:753px;width:1111px;height:167px;background:#fff;border:1px solid #000;border-right:0;border-bottom:0"></div>
<svg class="a" style="left:81px;top:98px" width="1107" height="650" viewBox="81 98 1107 650" shape-rendering="crispEdges" fill="none">
<polyline points="79,718 81,717.5 126,710 176,700 226,688.75 276,677.5 326,667.5 396,651 415.7,645.6 480,626 536.6,609 593,590.7 649,571 705,552.8 746,542" stroke="#00ffff" stroke-width="1.5" shape-rendering="geometricPrecision"/>
<polyline points="79,690 81,689.5 101,685 131,680 176,667.5 216,656 251,645 281,635 326,621 351,612.5 376,605 396,598 452,578 508.5,557 564.7,534.5 621,513.4 677,492 746,471" stroke="#4040f0" stroke-width="1.5" shape-rendering="geometricPrecision"/>
<polyline points="93,749 96,747.5 121,735 141,727.5 163.5,715 188.5,697.5 216,680 241,663.75 266,655 291,641 316,630 341,617.5 366,602.5 396,585 424,567 452,546 489,527.5 517,508 542,489.5 570,472.6 593,458.6 621,444.5 649,425 671.6,410.8 694,401 716.6,391 733.5,387.4 746,386.9" stroke="#3a989c" stroke-width="1.5" shape-rendering="geometricPrecision"/>
<polyline points="79,688 81,683.75 91,667.5 101,655 111,645 126,632.5 141,620 156,607.5 176,590 196,572.5 216,557.5 236,542.5 256,530 276,518.75 301,506 322,503 333,499.5 343.5,495 356,487.5 366,483.75 380,475 396,465.6 410,451.5 430,437.5 446.6,422 466,403.7 480,394 505,378 530,360 557,341 576,329 605,312.5 626,297.5 638.5,288.75 651,280 663.5,273.75 676,268.75 688.5,263.75 701,262 713.5,257 721,255.6 733.5,256 741,258 746,259" stroke="#b0b0b0" stroke-width="2.2" />
<polyline points="79,529 81,526 88.5,515 97,505 108.5,490 119.75,480 133.5,470 147,457 163.5,443.75 176,432.5 188.5,422.5 200,411 214,400 235,378.75 250,368.4 261,363.75 272.5,354 287.5,345 300.6,338 319,335.6 332.5,333.75 347.5,324 366,315 381,307.5 392.5,302 401,292 416,276 428.5,265 441,251 453.5,240 466,228.75 478.5,221 488.5,215 500,206 515,192.5 536,176 548.5,168.75 561,160 577,152.5 588.5,145 596,140 615,125 626,118.5 638.5,111 651,103.5 661,98" stroke="#a0a0a0" stroke-width="2.2" />
<polyline points="79,504 81,503 94.75,500 101,496 108.5,488.75 113.5,488 123.5,488.75 129.75,492.5 141,482.5 151,472.5 158.5,462.5 163.5,448.75 171,436 180,420 192,398 205,399 216,390 229,376 238.75,375 248,378.75 256,392.5 262,400 268.5,403.75 276,397.5 287.5,384 302.5,374 312,374 319,378.75 327,373 336,356 347.5,341 351,333.75 363.5,318.75 373.5,306 381,298 386,303.75 393.5,300 401,292.5 416,277.5 428.5,261 438.5,246 444.75,242 452,251 458.5,248.75 466,240 471,240 477,245 486,243.75 493.5,227.5 501,216 510,208 520,198 536,186 543.5,180 549.75,185 556,183.75 562,173 577,173 583.5,165 591,157.5 598.5,157.5 606,163 613.5,161 618.5,155 623.5,145 626,139.75 632,127 639.75,121 651,121 658.5,116 667,108.5 673.5,106.6 679.75,111 688.5,116.6 696,129 706,127 713.5,127 721,129 724.75,133 731,131.6 736,138.5 741,152 746,164" stroke="#ff8c1a" stroke-width="1" />
<polyline points="79,574 81,573.75 93.5,572 101,567.5 108.5,561 116,560.5 126,565 133.5,563.75 143.5,555 153.5,542.5 163.5,522.5 176,501 188.5,478.75 192,473.75 198.5,478.75 207,472.5 218.5,462.5 226,455 233.5,450 242,450 249.75,457.5 258.5,470 267,478.75 276,472.5 283.5,466 293.5,455 303.5,448.75 309.75,449 318.5,453.75 326,450 331,440 338.5,427.5 346,416 351,407.5 363.5,395 373.5,383.75 381,376 388.5,385 396,381 403.5,368.75 413.5,360 423.5,346 433.5,332.5 444.75,320.6 452,330 458.5,323.75 466,318.5 472,320 479.75,324 486,325.6 491,310 498.5,298.75 503.5,295 516,286 522,286 531,273.75 542,261 548.5,260 561,255 571,253.75 578.5,253.75 583.5,245 591,240 597,238 606,243.75 612,242.5 618.5,237.5 623.5,227.5 626,222.5 632,211 642,203 648.5,202 653.5,204 663.5,195 674.75,189 682,195.6 688.5,197.5 693.5,206 697,210.6 706,210 716,207 721,211 724.75,215 732,215.6 736,221 739.75,228.75 742,237.5" stroke="#ff8c1a" stroke-width="1" />
<polyline points="79,608 81,605 91,590 101,577.5 111,567.5 126,553.75 141,539 163.5,522.5 188.5,501 201,490 213.5,477.5 231,461 243.5,450 256,443.75 268.5,437.5 281,427.5 293.5,421 306,417.5 318.5,416 331,413.75 343.5,406 356,400 363.5,395 376,390 388.5,385 396,378.75 406,368.75 413.5,361 426,350 438.5,337.5 451,327.5 458.5,320 466,311.5 476,306 486,301.5 503.5,287.5 521,277.5 541,258.75 556,250 561,245 578.5,235 591,227.5 606,221 616,215 628.5,203.75 638.5,196 651,189.75 663.5,182.5 676,176 688.5,169.75 698.5,166 711,164.75 723.5,164 736,164.75 746,165.4" stroke="#00ffff" stroke-width="1.3" />
<polyline points="79,618 81,615 91,600 101,587.5 111,577.5 126,563.75 141,549 163.5,532.5 188.5,511 201,500 213.5,487.5 231,471 243.5,460 256,453.75 268.5,447.5 281,437.5 293.5,431 306,427.5 318.5,426 331,423.75 343.5,416 356,410 363.5,405 376,400 388.5,395 396,388.75 406,378.75 413.5,371 426,360 438.5,347.5 451,337.5 458.5,330 466,321.5 476,316 486,311.5 503.5,297.5 521,287.5 541,268.75 556,260 561,255 578.5,245 591,237.5 606,231 616,225 628.5,213.75 638.5,206 651,199.75 663.5,192.5 676,186 688.5,179.75 698.5,176 711,174.75 723.5,174 736,174.75 746,175.4" stroke="#00ffff" stroke-width="1.3" />
<polyline points="79,613 81,610 91,595 101,582.5 111,572.5 126,558.75 141,544 163.5,527.5 188.5,506 201,495 213.5,482.5 231,466 243.5,455 256,448.75 268.5,442.5 281,432.5 293.5,426 306,422.5 318.5,421 331,418.75 343.5,411 356,405 363.5,400 376,395 388.5,390 396,383.75 406,373.75 413.5,366 426,355 438.5,342.5 451,332.5 458.5,325 466,316.5 476,311 486,306.5 503.5,292.5 521,282.5 541,263.75 556,255 561,250 578.5,240 591,232.5 606,226 616,220 628.5,208.75 638.5,201 651,194.75 663.5,187.5 676,181 688.5,174.75 698.5,171 711,169.75 723.5,169 736,169.75 746,170.4" stroke="#e8e800" stroke-width="2.2" />
<polyline points="79,613 81,610 91,595 101,582.5 111,572.5 126,558.75 141,544 163.5,527.5 188.5,506 201,495 213.5,482.5 231,466 243.5,455 256,448.75 268.5,442.5 281,432.5 293.5,426 306,422.5 318.5,421 331,418.75 343.5,411 356,405 363.5,400 376,395 388.5,390 396,383.75 406,373.75 413.5,366 426,355 438.5,342.5 451,332.5 458.5,325 466,316.5 476,311 486,306.5 503.5,292.5 521,282.5 541,263.75 556,255 561,250 578.5,240 591,232.5 606,226 616,220 628.5,208.75 638.5,201 651,194.75 663.5,187.5 676,181 688.5,174.75 698.5,171 711,169.75 723.5,169 736,169.75 746,170.4" stroke="#507818" stroke-width="1" />
<polyline points="79,514 81,513 94.75,507.5 107,500 126,492 141,485 151,478.75 163.5,471 176,462.5 188.5,451 201,443.75 213.5,433.75 220,430 234.75,418.75 243.5,413.75 256,408.75 268.5,403.75 276,398.75 286,392.5 293.5,388.75 303.5,383.75 312,380 326,372.5 338.5,365 351,356 363.5,348.75 376,340 388.5,333.75 401,326 413.5,317.5 416,312.5 428.5,301 441,291 453.5,285 466,276 478.5,267.5 486,265 493.5,258.75 503.5,250 516,242.5 528.5,232.5 536,227.5 548.5,218.75 561,210 573.5,202.5 586,193.75 598.5,186 611,178.75 623.5,168.75 636,158.75 648.5,151 661,143.75 663.5,141 676,133.5 688.5,126 696,124 706,119 718.5,114.75 731,110.4 738.5,109 746,108.9" stroke="#ff3030" stroke-width="1" />
<polyline points="79,473 81,474 91,478 101,483.75 113.5,478 124.75,477 136,480 143.5,485.6 154.75,487 163.5,472.5 176,451 188.5,426 200,410 208.75,400 223.75,382.5 235,371 248,364.7 257.5,368.4 268.75,377.8 282,384.4 296,388.5 312,387.5 323,386.6 328.75,382.5 338.5,370 351,355 363.5,340 371,327.5 378.5,313.75 382,308.75 391,306 396,302.5 403.5,296 416,286 428.5,268.75 443.5,247.5 453.5,248 466,247 478.5,247 486,247 493.5,236 503.5,225 516,215 526,206 536,195 542,198 548.5,198 556,193.75 563.5,187.5 573.5,181 581,175 588.5,168.75 596,166 606,165 616,166 623.5,165.6 628.5,162.5 632,152.5 638.5,146 641,142 651,139 658.5,134.75 668.5,126 676,121.6 683.5,121 691,123 698.5,124.75 711,125.4 723.5,126 733.5,126 738.5,124 747,117" stroke="#8b3232" stroke-width="1" />
<polyline points="78.5,531 92,530 104.75,523.75 109.75,518.75 122,518.75 127,521 134.75,520 146,510 156,497.5 163.5,482.5 171,470 180,456 188.5,440 192,430 197,435 207,433.75 218.5,418.75 231,407.5 238.5,405 243.5,407 249.75,412.5 258.5,423.75 268.5,435 273.5,430 281,422.5 287,417.5 293.5,410 301,405 308.5,405 313.5,410 318.5,415 324.75,410 331,398.75 338.5,381 351,367.5 363.5,353.75 373.5,338.75 381,330 386,335 396,330 401,321 413.5,311 418.5,303.75 423.5,297.5 432,286 438.5,278.75 444.75,275 452,283 457,280 463.5,275 469.75,271 476,275 486,280 489.75,270 496,256 501,250 508.5,245 516,240 523.5,235 533.5,225 541,215 542,213.75 548.5,218 556,213.75 561,207.5 571,202.5 578.5,200 583.5,195 591,191 598.5,191 606,195 611,195 616,192.5 621,185 626,173 633.5,162 641,155 648.5,152.5 654.75,155 662,148 668.5,142 676,141 681,145 688.5,150 693.5,158.5 698.5,161.6 708.5,161 718.5,161.6 724.75,166 731,167 736,173.5 741,188.5 744.75,196" stroke="#ff00ff" stroke-width="1" />
<polyline points="81,543 92,541 104.75,535 109.75,532 123.5,532 128.5,533.75 136,531 146,522.5 156,511 163.5,500 171,483.75 180,467.5 188.5,451 192,442.5 197,447.5 207,445 218.5,431 231,420.6 238.5,418 243.5,420 249.75,426 258.5,437.5 268.5,448 273.5,442.5 281,433.75 287,428 293.5,422.5 301,418 308.5,417.5 313.5,420 318.5,422.5 324.75,418.75 331,410 338.5,395 351,380 363.5,365 373.5,351 381,343.75 386,351 396,343.75 401,337.5 413.5,326 418.5,318.75 423.5,315 432,302.5 438.5,293.75 444.75,288.75 452,297.5 458.5,295 463.5,288.75 471,286 477,290 483.5,292.5 487,292.5 491,282.5 496,270 501,262.5 508.5,257.5 516,253.75 523.5,250 528.5,245 533.5,236 536,232.5 542,228.75 548.5,232.5 556,230 562,222.5 571,220 578.5,217.5 583.5,210 591,205 598.5,205 606,208.75 611,208 616,205 621,198.75 626,188.5 633.5,176 641,169.5 648.5,168 654.75,170 662,163 668.5,156.5 676,155.2 681,159.5 688.5,163.5 693.5,171 698.5,176 703.5,177 711,174.75 718.5,174.75 724.75,181 731,183.5 736,188.5 741,203.5" stroke="#ff00ff" stroke-width="1" />
<polyline points="78.5,537.5 92,535.6 104.75,528.75 109.75,525 123.5,525 128.5,527.5 136,525 146,516 156,505 163.5,492.5 171,476 180,461 188.5,445 192,436 197,441 207,438.75 218.5,424 231,413.75 238.5,412 243.5,413 249.75,418.75 258.5,430 268.5,439 273.5,436 281,428.75 287,422.5 293.5,416 301,411 308.5,411 313.5,414 318.5,417.5 324.75,413.75 331,403.75 338.5,388.75 351,373.75 363.5,358.75 373.5,345 381,337.5 386,343.75 396,337.5 401,330 413.5,318.75 418.5,311 423.5,306 432,295 438.5,286 444.75,282 452,290 458.5,286 466,280 471,278.75 477,283 486,287.5 491,273.75 496,262.5 501,253.75 508.5,248.75 516,246 523.5,241 528.5,236 533.5,228.75 536,223.75 542,221 548.5,225 556,221 561,215 571,212.5 578.5,210 583.5,202.5 591,197.5 598.5,197.5 606,202.5 611,202 616,198.75 621,192.5 626,182 633.5,168 641,162 648.5,160 654.75,162 662,155.5 668.5,149.5 676,148.5 681,151 688.5,156 693.5,163.5 698.5,169.75 703.5,171 711,167 718.5,167 724.75,172 731,174.75 736,181 741,194.75" stroke="#00e000" stroke-width="1" />
<polyline points="80,748 81,742.5 88.5,715 96,690 101,676 108.5,662.5 121,645 133.5,627.5 143.5,602.5 151,585 157,572.5 169.75,578.75 187,579.5 191.5,581 201,577.5 216,572.5 226,566 236,557.5 246,547.5 256,532.5 263.5,520 272,503 281,487.5 288.5,473.75 297,462 312,457.5 323.5,455.6 332,459 339.75,458.75 349.75,461 359.75,466 366,468.75 380,475 390,472.5 396,462.8 410,446 438,433 446.6,427.6 455,406.5 466,387 474.75,377.5 486,366 500,362.5 520,352.5 528.5,337 538.5,328.75 548.5,322.5 556,315 566,312.5 576,310 585,309 592.5,300 605,290 615,277.5 623.5,263 627,257 636,260 642,258.75 648.5,255 657,248.75 667,243 676,242 683.5,237.5 688.5,230 696,225 703.5,222.5 711,216 717,211 723.5,212.5 731,210.6 736,212.5 739.75,216 743.5,220" stroke="#202020" stroke-width="1" />
<polyline points="79,626 81,625 101,617.5 121,607.5 136,601 156,590 171,577.5 191,563.75 211,551 231,537.5 251,526 271,516 291,507.5 310,499 325,491.5 337,485 350,476 366,465.6 380,457 396,446 424,426 452,406.5 480,391 505,375 530,357.5 557,338 576,326 590,318 605,309 626,292.5 638.5,282.5 651,273.75 663.5,266 676,260 688.5,253.75 701,250 713.5,245 726,240.6 736,238.5 742,237.5" stroke="#000" stroke-width="3" shape-rendering="geometricPrecision"/>
<path d="M80.5 530V536" stroke="#0000ff" stroke-width="1"/>
<rect x="78.0" y="533" width="5" height="2" fill="#0000ff"/>
<path d="M87.5 525V533.5M87.5 537.5V540" stroke="#0000ff" stroke-width="1"/>
<rect x="85.5" y="533.5" width="4" height="4" fill="none" stroke="#0000ff" stroke-width="1"/>
<path d="M94.5 513.75V535" stroke="#0000ff" stroke-width="1"/>
<rect x="92.0" y="522.5" width="5" height="12.5" fill="#0000ff"/>
<path d="M101.5 523.75V526.5M101.5 533.5V541" stroke="#0000ff" stroke-width="1"/>
<rect x="99.5" y="526.5" width="4" height="7" fill="none" stroke="#0000ff" stroke-width="1"/>
<path d="M108.5 507.5V509.5M108.5 530.5V531" stroke="#0000ff" stroke-width="1"/>
<rect x="106.5" y="509.5" width="4" height="21" fill="none" stroke="#0000ff" stroke-width="1"/>
<path d="M115.5 522.5V524.5M115.5 527.5V535.6" stroke="#0000ff" stroke-width="1"/>
<rect x="113.5" y="524.5" width="4" height="3" fill="none" stroke="#0000ff" stroke-width="1"/>
<path d="M122.5 518.75V526.5M122.5 532.5V533.75" stroke="#0000ff" stroke-width="1"/>
<rect x="120.5" y="526.5" width="4" height="6" fill="none" stroke="#0000ff" stroke-width="1"/>
<path d="M129.5 512.5V537" stroke="#0000ff" stroke-width="1"/>
<rect x="127.0" y="514.4" width="5" height="21.2" fill="#0000ff"/>
<path d="M136.5 513V516.5M136.5 525.5V525.6" stroke="#0000ff" stroke-width="1"/>
<rect x="134.5" y="516.5" width="4" height="9" fill="none" stroke="#0000ff" stroke-width="1"/>
<path d="M143.5 502V505.5M143.5 521.5V521" stroke="#0000ff" stroke-width="1"/>
<rect x="141.5" y="505.5" width="4" height="16" fill="none" stroke="#0000ff" stroke-width="1"/>
<path d="M150.5 494V495.5M150.5 511.5V511" stroke="#0000ff" stroke-width="1"/>
<rect x="148.5" y="495.5" width="4" height="16" fill="none" stroke="#0000ff" stroke-width="1"/>
<path d="M157.5 482.5V483.5M157.5 496.5V501" stroke="#0000ff" stroke-width="1"/>
<rect x="155.5" y="483.5" width="4" height="13" fill="none" stroke="#0000ff" stroke-width="1"/>
<path d="M164.5 445V448.5M164.5 481.5V481" stroke="#0000ff" stroke-width="1"/>
<rect x="162.5" y="448.5" width="4" height="33" fill="none" stroke="#0000ff" stroke-width="1"/>
<path d="M171.5 428.75V452.5" stroke="#0000ff" stroke-width="1"/>
<path d="M169.0 439.5H174.0" stroke="#0000ff" stroke-width="1"/>
<path d="M178.5 435.6V440.5M178.5 443.5V447" stroke="#0000ff" stroke-width="1"/>
<rect x="176.5" y="440.5" width="4" height="3" fill="none" stroke="#0000ff" stroke-width="1"/>
<path d="M185.5 423.75V428.5M185.5 436.5V437" stroke="#0000ff" stroke-width="1"/>
<rect x="183.5" y="428.5" width="4" height="8" fill="none" stroke="#0000ff" stroke-width="1"/>
<path d="M192.5 411V413.5M192.5 426.5V427" stroke="#0000ff" stroke-width="1"/>
<rect x="190.5" y="413.5" width="4" height="13" fill="none" stroke="#0000ff" stroke-width="1"/>
<path d="M199.5 410V453" stroke="#0000ff" stroke-width="1"/>
<rect x="197.0" y="414" width="5" height="38" fill="#0000ff"/>
<path d="M206.5 422.5V424.5M206.5 437.5V445" stroke="#0000ff" stroke-width="1"/>
<rect x="204.5" y="424.5" width="4" height="13" fill="none" stroke="#0000ff" stroke-width="1"/>
<path d="M213.5 410V428.75" stroke="#0000ff" stroke-width="1"/>
<path d="M211.0 420.5H216.0" stroke="#0000ff" stroke-width="1"/>
<path d="M220.5 402.5V409.5M220.5 418.5V418.75" stroke="#0000ff" stroke-width="1"/>
<rect x="218.5" y="409.5" width="4" height="9" fill="none" stroke="#0000ff" stroke-width="1"/>
<path d="M227.5 403V405.5M227.5 409.5V411" stroke="#0000ff" stroke-width="1"/>
<rect x="225.5" y="405.5" width="4" height="4" fill="none" stroke="#0000ff" stroke-width="1"/>
<path d="M234.5 397.5V403.75" stroke="#0000ff" stroke-width="1"/>
<rect x="232.0" y="402" width="5" height="1.75" fill="#0000ff"/>
<path d="M241.5 400.6V420" stroke="#0000ff" stroke-width="1"/>
<rect x="239.0" y="404" width="5" height="7" fill="#0000ff"/>
<path d="M248.5 420V437.5" stroke="#0000ff" stroke-width="1"/>
<path d="M246.0 426.5H251.0" stroke="#0000ff" stroke-width="1"/>
<path d="M255.5 434V450.6" stroke="#0000ff" stroke-width="1"/>
<rect x="253.0" y="437" width="5" height="10.5" fill="#0000ff"/>
<path d="M262.5 435.6V457" stroke="#0000ff" stroke-width="1"/>
<rect x="260.0" y="452" width="5" height="5" fill="#0000ff"/>
<path d="M269.5 438.75V452.5M269.5 456.5V460" stroke="#0000ff" stroke-width="1"/>
<rect x="267.5" y="452.5" width="4" height="4" fill="none" stroke="#0000ff" stroke-width="1"/>
<path d="M276.5 413.75V415.5M276.5 449.5V450" stroke="#0000ff" stroke-width="1"/>
<rect x="274.5" y="415.5" width="4" height="34" fill="none" stroke="#0000ff" stroke-width="1"/>
<path d="M283.5 413.75V419.5M283.5 427.5V433.75" stroke="#0000ff" stroke-width="1"/>
<rect x="281.5" y="419.5" width="4" height="8" fill="none" stroke="#0000ff" stroke-width="1"/>
<path d="M290.5 400V404.5M290.5 418.5V418" stroke="#0000ff" stroke-width="1"/>
<rect x="288.5" y="404.5" width="4" height="14" fill="none" stroke="#0000ff" stroke-width="1"/>
<path d="M297.5 394V427" stroke="#0000ff" stroke-width="1"/>
<rect x="295.0" y="398.75" width="5" height="6.85" fill="#0000ff"/>
<path d="M304.5 392.5V411" stroke="#0000ff" stroke-width="1"/>
<rect x="302.0" y="398.75" width="5" height="4.25" fill="#0000ff"/>
<path d="M311.5 404V423" stroke="#0000ff" stroke-width="1"/>
<rect x="309.0" y="410" width="5" height="3.75" fill="#0000ff"/>
<path d="M318.5 422.5V441" stroke="#0000ff" stroke-width="1"/>
<path d="M316.0 429.5H321.0" stroke="#0000ff" stroke-width="1"/>
<path d="M325.5 402V405.5M325.5 417.5V427.5" stroke="#0000ff" stroke-width="1"/>
<rect x="323.5" y="405.5" width="4" height="12" fill="none" stroke="#0000ff" stroke-width="1"/>
<path d="M332.5 370V372.5M332.5 396.5V400.6" stroke="#0000ff" stroke-width="1"/>
<rect x="330.5" y="372.5" width="4" height="24" fill="none" stroke="#0000ff" stroke-width="1"/>
<path d="M339.5 355.6V368" stroke="#0000ff" stroke-width="1"/>
<rect x="337.0" y="363.75" width="5" height="3.25" fill="#0000ff"/>
<path d="M346.5 357V358.5M346.5 362.5V368" stroke="#0000ff" stroke-width="1"/>
<rect x="344.5" y="358.5" width="4" height="4" fill="none" stroke="#0000ff" stroke-width="1"/>
<path d="M353.5 335.6V356" stroke="#0000ff" stroke-width="1"/>
<rect x="351.0" y="343.75" width="5" height="12.25" fill="#0000ff"/>
<path d="M360.5 338V341.5M360.5 345.5V354" stroke="#0000ff" stroke-width="1"/>
<rect x="358.5" y="341.5" width="4" height="4" fill="none" stroke="#0000ff" stroke-width="1"/>
<path d="M367.5 333.75V347.5" stroke="#0000ff" stroke-width="1"/>
<path d="M365.0 344.5H370.0" stroke="#0000ff" stroke-width="1"/>
<path d="M374.5 320V322.5M374.5 342.5V343.75" stroke="#0000ff" stroke-width="1"/>
<rect x="372.5" y="322.5" width="4" height="20" fill="none" stroke="#0000ff" stroke-width="1"/>
<path d="M381.5 320V328" stroke="#0000ff" stroke-width="1"/>
<path d="M379.0 324.5H384.0" stroke="#0000ff" stroke-width="1"/>
<path d="M388.5 332.5V370.6" stroke="#0000ff" stroke-width="1"/>
<rect x="386.0" y="337.5" width="5" height="31.5" fill="#0000ff"/>
<path d="M395.5 333V334.5M395.5 360.5V363.75" stroke="#0000ff" stroke-width="1"/>
<rect x="393.5" y="334.5" width="4" height="26" fill="none" stroke="#0000ff" stroke-width="1"/>
<path d="M402.5 295V306.5M402.5 329.5V332.5" stroke="#0000ff" stroke-width="1"/>
<rect x="400.5" y="306.5" width="4" height="23" fill="none" stroke="#0000ff" stroke-width="1"/>
<path d="M409.5 305V327.5" stroke="#0000ff" stroke-width="1"/>
<rect x="407.0" y="305.6" width="5" height="8.15" fill="#0000ff"/>
<path d="M416.5 305V308.5M416.5 310.5V317.5" stroke="#0000ff" stroke-width="1"/>
<rect x="414.5" y="308.5" width="4" height="2" fill="none" stroke="#0000ff" stroke-width="1"/>
<path d="M423.5 280.6V284.5M423.5 298.5V298" stroke="#0000ff" stroke-width="1"/>
<rect x="421.5" y="284.5" width="4" height="14" fill="none" stroke="#0000ff" stroke-width="1"/>
<path d="M430.5 280V288.75" stroke="#0000ff" stroke-width="1"/>
<path d="M428.0 284.5H433.0" stroke="#0000ff" stroke-width="1"/>
<path d="M437.5 263V266.5M437.5 279.5V280" stroke="#0000ff" stroke-width="1"/>
<rect x="435.5" y="266.5" width="4" height="13" fill="none" stroke="#0000ff" stroke-width="1"/>
<path d="M444.5 253.75V272" stroke="#0000ff" stroke-width="1"/>
<rect x="442.0" y="266" width="5" height="4" fill="#0000ff"/>
<path d="M451.5 297.5V325.6" stroke="#0000ff" stroke-width="1"/>
<rect x="449.0" y="298.75" width="5" height="9.25" fill="#0000ff"/>
<path d="M458.5 280V281.5M458.5 295.5V305.6" stroke="#0000ff" stroke-width="1"/>
<rect x="456.5" y="281.5" width="4" height="14" fill="none" stroke="#0000ff" stroke-width="1"/>
<path d="M465.5 262.5V265.5M465.5 281.5V281" stroke="#0000ff" stroke-width="1"/>
<rect x="463.5" y="265.5" width="4" height="16" fill="none" stroke="#0000ff" stroke-width="1"/>
<path d="M472.5 258.75V281" stroke="#0000ff" stroke-width="1"/>
<rect x="470.0" y="263.75" width="5" height="15" fill="#0000ff"/>
<path d="M479.5 285V306" stroke="#0000ff" stroke-width="1"/>
<rect x="477.0" y="287" width="5" height="8" fill="#0000ff"/>
<path d="M486.5 291V292.5M486.5 302.5V312" stroke="#0000ff" stroke-width="1"/>
<rect x="484.5" y="292.5" width="4" height="10" fill="none" stroke="#0000ff" stroke-width="1"/>
<path d="M493.5 227.5V232.5M493.5 259.5V260" stroke="#0000ff" stroke-width="1"/>
<rect x="491.5" y="232.5" width="4" height="27" fill="none" stroke="#0000ff" stroke-width="1"/>
<path d="M500.5 219V234" stroke="#0000ff" stroke-width="1"/>
<rect x="498.0" y="223.75" width="5" height="8.25" fill="#0000ff"/>
<path d="M507.5 226V243" stroke="#0000ff" stroke-width="1"/>
<rect x="505.0" y="228.75" width="5" height="13.75" fill="#0000ff"/>
<path d="M514.5 235.6V237.5M514.5 239.5V248" stroke="#0000ff" stroke-width="1"/>
<rect x="512.5" y="237.5" width="4" height="2" fill="none" stroke="#0000ff" stroke-width="1"/>
<path d="M521.5 238V247.5" stroke="#0000ff" stroke-width="1"/>
<path d="M519.0 243.5H524.0" stroke="#0000ff" stroke-width="1"/>
<path d="M528.5 222V228.5M528.5 234.5V245.6" stroke="#0000ff" stroke-width="1"/>
<rect x="526.5" y="228.5" width="4" height="6" fill="none" stroke="#0000ff" stroke-width="1"/>
<path d="M535.5 202V204.5M535.5 226.5V227" stroke="#0000ff" stroke-width="1"/>
<rect x="533.5" y="204.5" width="4" height="22" fill="none" stroke="#0000ff" stroke-width="1"/>
<path d="M542.5 197V208" stroke="#0000ff" stroke-width="1"/>
<path d="M540.0 208.5H545.0" stroke="#0000ff" stroke-width="1"/>
<path d="M549.5 217V248.75" stroke="#0000ff" stroke-width="1"/>
<rect x="547.0" y="218.75" width="5" height="18.75" fill="#0000ff"/>
<path d="M556.5 208.75V228.75" stroke="#0000ff" stroke-width="1"/>
<rect x="554.0" y="220" width="5" height="2.5" fill="#0000ff"/>
<path d="M563.5 187.5V192.5M563.5 207.5V208" stroke="#0000ff" stroke-width="1"/>
<rect x="561.5" y="192.5" width="4" height="15" fill="none" stroke="#0000ff" stroke-width="1"/>
<path d="M570.5 173.75V215" stroke="#0000ff" stroke-width="1"/>
<rect x="568.0" y="188" width="5" height="24" fill="#0000ff"/>
<path d="M577.5 210.6V215.5M577.5 218.5V230" stroke="#0000ff" stroke-width="1"/>
<rect x="575.5" y="215.5" width="4" height="3" fill="none" stroke="#0000ff" stroke-width="1"/>
<path d="M584.5 180V182.5M584.5 204.5V217" stroke="#0000ff" stroke-width="1"/>
<rect x="582.5" y="182.5" width="4" height="22" fill="none" stroke="#0000ff" stroke-width="1"/>
<path d="M591.5 180V195.6" stroke="#0000ff" stroke-width="1"/>
<rect x="589.0" y="183" width="5" height="5.75" fill="#0000ff"/>
<path d="M598.5 181V212" stroke="#0000ff" stroke-width="1"/>
<rect x="596.0" y="182" width="5" height="15" fill="#0000ff"/>
<path d="M605.5 203.75V222" stroke="#0000ff" stroke-width="1"/>
<rect x="603.0" y="212" width="5" height="3.6" fill="#0000ff"/>
<path d="M612.5 182.5V198.75" stroke="#0000ff" stroke-width="1"/>
<rect x="610.0" y="194" width="5" height="3.5" fill="#0000ff"/>
<path d="M619.5 178.75V180.5M619.5 203.5V207" stroke="#0000ff" stroke-width="1"/>
<rect x="617.5" y="180.5" width="4" height="23" fill="none" stroke="#0000ff" stroke-width="1"/>
<path d="M626.5 153.75V154.5M626.5 179.5V183.75" stroke="#0000ff" stroke-width="1"/>
<rect x="624.5" y="154.5" width="4" height="25" fill="none" stroke="#0000ff" stroke-width="1"/>
<path d="M633.5 133.5V146.6" stroke="#0000ff" stroke-width="1"/>
<rect x="631.0" y="138" width="5" height="8" fill="#0000ff"/>
<path d="M640.5 141.6V151" stroke="#0000ff" stroke-width="1"/>
<rect x="638.0" y="143.5" width="5" height="5.5" fill="#0000ff"/>
<path d="M647.5 152V158" stroke="#0000ff" stroke-width="1"/>
<path d="M645.0 158.5H650.0" stroke="#0000ff" stroke-width="1"/>
<path d="M654.5 148.5V168" stroke="#0000ff" stroke-width="1"/>
<rect x="652.0" y="152" width="5" height="14.6" fill="#0000ff"/>
<path d="M661.5 139.75V142.5M661.5 154.5V159.75" stroke="#0000ff" stroke-width="1"/>
<rect x="659.5" y="142.5" width="4" height="12" fill="none" stroke="#0000ff" stroke-width="1"/>
<path d="M668.5 131.6V138.5M668.5 140.5V141.6" stroke="#0000ff" stroke-width="1"/>
<rect x="666.5" y="138.5" width="4" height="2" fill="none" stroke="#0000ff" stroke-width="1"/>
<path d="M675.5 131.6V151.6" stroke="#0000ff" stroke-width="1"/>
<rect x="673.0" y="136" width="5" height="8.75" fill="#0000ff"/>
<path d="M682.5 164V176.6" stroke="#0000ff" stroke-width="1"/>
<path d="M680.0 165.5H685.0" stroke="#0000ff" stroke-width="1"/>
<path d="M689.5 151.6V162.5M689.5 172.5V172" stroke="#0000ff" stroke-width="1"/>
<rect x="687.5" y="162.5" width="4" height="10" fill="none" stroke="#0000ff" stroke-width="1"/>
<path d="M696.5 136V198.5" stroke="#0000ff" stroke-width="1"/>
<rect x="694.0" y="143" width="5" height="55.5" fill="#0000ff"/>
<path d="M703.5 156V167.5M703.5 193.5V193.5" stroke="#0000ff" stroke-width="1"/>
<rect x="701.5" y="167.5" width="4" height="26" fill="none" stroke="#0000ff" stroke-width="1"/>
<path d="M710.5 156.6V169.75" stroke="#0000ff" stroke-width="1"/>
<rect x="708.0" y="162" width="5" height="6" fill="#0000ff"/>
<path d="M717.5 153.5V189.75" stroke="#0000ff" stroke-width="1"/>
<rect x="715.0" y="159" width="5" height="4.5" fill="#0000ff"/>
<path d="M724.5 181V203" stroke="#0000ff" stroke-width="1"/>
<rect x="722.0" y="186" width="5" height="5.6" fill="#0000ff"/>
<path d="M731.5 161.6V169.5M731.5 184.5V203" stroke="#000" stroke-width="1"/>
<rect x="729.5" y="169.5" width="4" height="15" fill="none" stroke="#000" stroke-width="1"/>
<path d="M738.5 182V218.75" stroke="#000" stroke-width="1"/>
<rect x="736.0" y="183.5" width="5" height="29.5" fill="#000"/>
<path d="M745.5 185.6V251" stroke="#000" stroke-width="1"/>
<rect x="743.0" y="197" width="5" height="49" fill="#000"/>
<g shape-rendering="geometricPrecision">
<path d="M87.5 447V471M81 457.5L87.5 471L94 457.5" stroke="#108080" stroke-width="1" fill="none"/>
<path d="M115.5 447V471M109 457.5L115.5 471L122 457.5" stroke="#108080" stroke-width="1" fill="none"/>
<path d="M122.5 447V471M116 457.5L122.5 471L129 457.5" stroke="#ff00ff" stroke-width="1" fill="none"/>
<path d="M178.5 352V377M172 363.5L178.5 377L185 363.5" stroke="#ff00ff" stroke-width="1" fill="none"/>
<path d="M269.5 331V356M263 342.5L269.5 356L276 342.5" stroke="#108080" stroke-width="1" fill="none"/>
<path d="M297.5 327V352M291 338.5L297.5 352L304 338.5" stroke="#108080" stroke-width="1" fill="none"/>
<path d="M304.5 329V354M298 340.5L304.5 354L311 340.5" stroke="#ff00ff" stroke-width="1" fill="none"/>
<path d="M325.5 330V355M319 341.5L325.5 355L332 341.5" stroke="#ff00ff" stroke-width="1" fill="none"/>
<path d="M416.5 270V295M412 286L416.5 295L421 286" stroke="#108080" stroke-width="1" fill="none"/>
<path d="M542.5 174V195M536 182.5L542.5 195L549 182.5" stroke="#ff00ff" stroke-width="1" fill="none"/>
<path d="M682.5 98V113M676 102L682.5 113L689 102" stroke="#ff00ff" stroke-width="1" fill="none"/>
<path d="M129 475V500.6M119.7 479.1L129 500.6L138.3 479.1" stroke="#808080" stroke-width="1.7" fill="none"/>
<path d="M199 475V500M189.7 478.5L199 500L208.3 478.5" stroke="#808080" stroke-width="1.7" fill="none"/>
<path d="M248 383.75V408.75M238.7 387.25L248 408.75L257.3 387.25" stroke="#808080" stroke-width="1.7" fill="none"/>
<path d="M318.5 373V398.75M309.2 377.25L318.5 398.75L327.8 377.25" stroke="#808080" stroke-width="1.7" fill="none"/>
<path d="M388 301V325.6M378.7 304.1L388 325.6L397.3 304.1" stroke="#808080" stroke-width="1.7" fill="none"/>
<path d="M451 245V267.5M441.7 246L451 267.5L460.3 246" stroke="#808080" stroke-width="1.7" fill="none"/>
<path d="M479 235V259M469.7 237.5L479 259L488.3 237.5" stroke="#808080" stroke-width="1.7" fill="none"/>
<path d="M549 187.5V212.5M539.7 191L549 212.5L558.3 191" stroke="#808080" stroke-width="1.7" fill="none"/>
<path d="M605 159V184M595.7 162.5L605 184L614.3 162.5" stroke="#808080" stroke-width="1.7" fill="none"/>
<path d="M682 113V137M672.7 115.5L682 137L691.3 115.5" stroke="#808080" stroke-width="1.7" fill="none"/>
<path d="M262 403V428M252.7 407L262 428L271.3 407" stroke="#ff0000" stroke-width="2.3" fill="none"/>
<path d="M318.5 400V415M312 401L318.5 415L325 401" stroke="#ff0000" stroke-width="1" fill="none"/>
<path d="M696 103.5V128M686.6 107L696 128L705.4 107" stroke="#ff0000" stroke-width="2.3" fill="none"/>
<path d="M717.5 118V142M711.2 129L717.5 142L723.8 129" stroke="#ff0000" stroke-width="1" fill="none"/>
<path d="M724 133.5V159M714.7 138.5L724 159L733.3 138.5" stroke="#ff0000" stroke-width="2.3" fill="none"/>
<path d="M738 112V136.6M728.7 116L738 136.6L747.3 116" stroke="#ff0000" stroke-width="2.3" fill="none"/>
<path d="M206 505V537M196.6 526L206 505L215.4 526" stroke="#00ee00" stroke-width="2" fill="none"/>
<path d="M276 459V492M266.6 480L276 459L285.4 480" stroke="#00ee00" stroke-width="2" fill="none"/>
<path d="M324.75 445V478M315.35 466L324.75 445L334.15 466" stroke="#00ee00" stroke-width="2" fill="none"/>
<path d="M394.75 395V428M385.35 416L394.75 395L404.15 416" stroke="#00ee00" stroke-width="2" fill="none"/>
<path d="M458 348V380M448.6 369L458 348L467.4 369" stroke="#00ee00" stroke-width="2" fill="none"/>
<path d="M493 333V366M483.6 354L493 333L502.4 354" stroke="#00ee00" stroke-width="2" fill="none"/>
<path d="M556 257V288M546.6 278L556 257L565.4 278" stroke="#00ee00" stroke-width="2" fill="none"/>
<path d="M611.6 238.75V271M602.2 259.75L611.6 238.75L621 259.75" stroke="#00ee00" stroke-width="2" fill="none"/>
<path d="M703 202.5V235M693.6 223.5L703 202.5L712.4 223.5" stroke="#00ee00" stroke-width="2" fill="none"/>
<path d="M731 208V238.75M721.6 229L731 208L740.4 229" stroke="#00ee00" stroke-width="2" fill="none"/>
<path d="M136 601V634M127 622.5L136 601L145 622.5" stroke="#00ee00" stroke-width="1.3" fill="none"/>
<path d="M696.6 223.75V251M690.3 235.25L696.6 223.75L702.9 235.25" stroke="#00ee00" stroke-width="1" fill="none"/>
<path d="M269 478.75V512M259.7 500.25L269 478.75L278.3 500.25" stroke="#808080" stroke-width="2" fill="none"/>
<path d="M955.5 709V740.5M949.2 722.5L955.5 709L961.8 722.5" stroke="#b4b4b4" stroke-width="1" fill="none"/>
</g></svg>
<div class="ann" style="left:746px;top:129px">S/T SELL SIGNAL</div>
<div class="ann" style="left:927px;top:126px">Next Echo and Pulse Highs</div>
<div class="ann" style="left:927px;top:174px">* S/T SELL SIGNAL *
* SHORT ALERT *</div>
<div class="ann" style="left:928px;top:222px">S/T SELL Signal at 5158 on 12 April</div>
<div class="ann" style="left:927px;top:254px">T volume Osc: negative on 04 April
Down strongly</div>
<div class="ann" style="left:927px;top:302px">Osc: SELL Signal on 28 Mar
Down</div>
<div class="ann" style="left:927px;top:382px">Click here for
More Information...</div>
<div class="ann" style="left:927px;top:685px">Next Projected Low(s)</div>
<div class="lv" style="left:780px;top:207px">5106</div>
<div class="lv" style="left:780px;top:391px">4781</div>
<div class="lv" style="left:780px;top:573px">4457</div>
<div class="lv" style="left:780px;top:666px">4289</div>
<div class="a" style="left:1188px;top:97px;width:61px;height:651px;border:1px solid #000;box-shadow:inset 1px 1px 0 #fff"></div>
<svg class="a" style="left:1189px;top:98px" width="12" height="650" viewBox="1189 98 12 650" shape-rendering="crispEdges"><path d="M1190 111.5h6" stroke="#000" stroke-width="1"/><path d="M1190 139.5h3" stroke="#000" stroke-width="1"/><path d="M1190 168.5h6" stroke="#000" stroke-width="1"/><path d="M1190 196.5h3" stroke="#000" stroke-width="1"/><path d="M1190 224.5h6" stroke="#000" stroke-width="1"/><path d="M1190 252.5h3" stroke="#000" stroke-width="1"/><path d="M1190 281.5h6" stroke="#000" stroke-width="1"/><path d="M1190 309.5h3" stroke="#000" stroke-width="1"/><path d="M1190 337.5h6" stroke="#000" stroke-width="1"/><path d="M1190 365.5h3" stroke="#000" stroke-width="1"/><path d="M1190 394.5h6" stroke="#000" stroke-width="1"/><path d="M1190 422.5h3" stroke="#000" stroke-width="1"/><path d="M1190 450.5h6" stroke="#000" stroke-width="1"/><path d="M1190 478.5h3" stroke="#000" stroke-width="1"/><path d="M1190 507.5h6" stroke="#000" stroke-width="1"/><path d="M1190 535.5h3" stroke="#000" stroke-width="1"/><path d="M1190 563.5h6" stroke="#000" stroke-width="1"/><path d="M1190 591.5h3" stroke="#000" stroke-width="1"/><path d="M1190 620.5h6" stroke="#000" stroke-width="1"/><path d="M1190 648.5h3" stroke="#000" stroke-width="1"/><path d="M1190 676.5h6" stroke="#000" stroke-width="1"/><path d="M1190 704.5h3" stroke="#000" stroke-width="1"/><path d="M1190 733.5h6" stroke="#000" stroke-width="1"/><path d="M1190 761.5h3" stroke="#000" stroke-width="1"/><path d="M1190.500 100.700V748" stroke="#000" stroke-width="1" stroke-dasharray="1 4.650"/></svg>
<div class="sc" style="top:104px">5300.00</div>
<div class="sc" style="top:160.5px">5200.00</div>
<div class="sc" style="top:217px">5100.00</div>
<div class="sc" style="top:273.5px">5000.00</div>
<div class="sc" style="top:330px">4900.00</div>
<div class="sc" style="top:386.5px">4800.00</div>
<div class="sc" style="top:443px">4700.00</div>
<div class="sc" style="top:499.5px">4600.00</div>
<div class="sc" style="top:556px">4500.00</div>
<div class="sc" style="top:612.5px">4400.00</div>
<div class="sc" style="top:669px">4300.00</div>
<div class="sc" style="top:725.5px">4200.00</div>
<div class="a cream" style="left:1189px;top:112px;width:59px;height:16px;border:1px solid #000;border-left:0;border-right:0;font-size:12.700px;line-height:14px;padding-left:6px;-webkit-text-stroke:.3px #000">5284.61</div>
<div class="a" style="left:1224px;top:731px;width:24px;height:17px;background:#d4d0c8;border:1px solid #000"><svg width="22" height="15" viewBox="0 1 21 15"><path d="M10.500 2v12M4 4h13" stroke="#000" stroke-width="1.2"/><path d="M1.500 12l3-7 3 7zM13.500 12l3-7 3 7z" fill="#f5e800" stroke="#000" stroke-width=".9"/><path d="M10.500 7v7" stroke="#f5e800" stroke-width="2"/></svg></div>
<svg class="a" style="left:79px;top:754px" width="1109" height="164" viewBox="79 754 1109 164" shape-rendering="crispEdges" fill="none"><path d="M80.5 772.5V907.5M87.5 774V907.5M94.5 775V907.5M101.5 778V907.5M108.5 780V907.5M115.5 784V907.5M122.5 787V907.5M129.5 790V907.5M136.5 792V907.5M143.5 795V907.5M150.5 796V907.5M157.5 795V907.5M164.5 789V907.5M171.5 779V907.5M178.5 772.5V907.5M185.5 766.5V907.5M192.5 761.5V907.5M199.5 763V907.5M206.5 772.5V907.5M213.5 776.5V907.5M220.5 781V907.5M227.5 785V907.5M234.5 786V907.5M241.5 789V907.5M248.5 799V907.5M255.5 813V907.5M262.5 829V907.5M269.5 845V907.5M276.5 855V907.5M283.5 860V907.5M290.5 857V907.5M297.5 852V907.5M304.5 845V907.5M311.5 845V907.5M318.5 851V907.5M325.5 857.5V907.5M332.5 856V907.5M339.5 851V907.5M346.5 845V907.5M353.5 829V907.5M360.5 817.5V907.5M367.5 814V907.5M374.5 813V907.5M381.5 811V907.5M388.5 817.5V907.5M395.5 824V907.5M402.5 824V907.5M409.5 824V907.5M416.5 826V907.5M423.5 816V907.5M430.5 805V907.5M437.5 800V907.5M444.5 792V907.5M451.5 796V907.5M458.5 801V907.5M465.5 804V907.5M472.5 808V907.5M479.5 820V907.5M486.5 820V907.5M493.5 817.5V907.5M500.5 813V907.5M507.5 811V907.5M514.5 805V907.5M521.5 797V907.5M528.5 801V907.5M535.5 804V907.5M542.5 805V907.5M549.5 809V907.5M556.5 809V907.5M563.5 809V907.5M570.5 813V907.5M577.5 822V907.5M584.5 819V907.5M591.5 818V907.5M598.5 823V907.5M605.5 832V907.5M612.5 830V907.5M619.5 834V907.5M626.5 835V907.5M633.5 828V907.5M640.5 820V907.5M647.5 815V907.5M654.5 813V907.5M661.5 813V907.5M668.5 816V907.5M675.5 822.5V907.5M682.5 829V907.5M689.5 834V907.5M696.5 844V907.5M703.5 857V907.5M710.5 866V907.5M717.5 870V907.5M724.5 882V907.5M731.5 889V907.5M738.5 898V907.5M745.5 906.5V913" stroke="#0000ff" stroke-width="1"/><polyline points="81,832.5 90,828 100,824 130,816 165,811.5 185,806 200,801 225,797.5 250,796 265,800 280,805 310,814 330,820 350,824 370,822 390,822.5 425,821.5 450,817.5 475,815 500,816.5 525,814 550,812.5 575,813 600,815 640,818.5 670,817.5 690,819 710,824 730,832.5 740,836 746,836" stroke="#000" stroke-width="1"/><g shape-rendering="geometricPrecision"><path d="M248 750V776M239 757.5L248 776L257 757.5" stroke="#ff0000" stroke-width="1.9" fill="none"/><path d="M395 750V802.5M386 782.5L395 802.5L404 782.5" stroke="#ff0000" stroke-width="1.9" fill="none"/><path d="M479 750V797.5M470 777.5L479 797.5L488 777.5" stroke="#ff0000" stroke-width="1.9" fill="none"/><path d="M577.5 750V799M568.5 779L577.5 799L586.5 779" stroke="#ff0000" stroke-width="1.9" fill="none"/><path d="M668 757.5V810M658.7 790L668 810L677.3 790" stroke="#ff0000" stroke-width="1.9" fill="none"/></g></svg>
<div class="ann" style="left:78px;top:755px;font-size:13px;line-height:15px;word-spacing:0">Osc 5,35</div>
<div class="ann" style="left:675px;top:759px">OSC SELL Signal</div>
<div class="a" style="left:1188px;top:753px;width:61px;height:184px;border:1px solid #000;box-shadow:inset 1px 1px 0 #fff"></div>
<div class="a" style="left:1187px;top:920px;width:1px;height:17px;background:#000"></div>
<svg class="a" style="left:1189px;top:756px" width="12" height="162" viewBox="1189 756 12 162" shape-rendering="crispEdges"><path d="M1190 765.5h6" stroke="#000" stroke-width="1"/><path d="M1190 782.5h3" stroke="#000" stroke-width="1"/><path d="M1190 800.5h6" stroke="#000" stroke-width="1"/><path d="M1190 817.5h3" stroke="#000" stroke-width="1"/><path d="M1190 835.5h6" stroke="#000" stroke-width="1"/><path d="M1190 853.5h3" stroke="#000" stroke-width="1"/><path d="M1190 870.5h6" stroke="#000" stroke-width="1"/><path d="M1190 888.5h3" stroke="#000" stroke-width="1"/><path d="M1190 906.5h6" stroke="#000" stroke-width="1"/><path d="M1190.500 756V910" stroke="#000" stroke-width="1" stroke-dasharray="1 1.350"/></svg>
<div class="sc" style="top:758.5px">200</div>
<div class="sc" style="top:793.75px">150</div>
<div class="sc" style="top:829px">100</div>
<div class="sc" style="top:864.25px">50</div>
<div class="sc" style="top:899.5px">0</div>
<div class="a cream" style="left:1189px;top:911px;width:59px;height:16px;border:1px solid #000;border-left:0;border-right:0;font-weight:bold;font-size:12.500px;line-height:14px;text-align:center">-17</div>
<div class="a" style="left:79px;top:920px;width:1109px;height:18px;background:#d4d0c8;border-top:1px solid #000"></div>
<div class="a" style="left:77px;top:938px;width:1173px;height:1px;background:#fff"></div>
<div class="tb" style="left:79px;top:921px;width:16px;height:16px"><svg width="14" height="14"><path d="M8.500 3v8l-4.500-4z" fill="#000"/></svg></div>
<div class="tb" style="left:95px;top:921px;width:17px;height:16px"><svg width="15" height="14"><path d="M6 3v8l4.500-4z" fill="#000"/></svg></div>
<svg class="a" style="left:79px;top:919px" width="600" height="19" viewBox="79 919 600 19"><path d="M168.5 920.5L175.5 936.500H206.5L213.5 920.5" fill="#d4d0c8" stroke="#000" stroke-width="1"/><text x="191" y="932.500" font-size="11.300" text-anchor="middle" fill="#000" font-family="Liberation Sans, sans-serif">CCI 20</text><path d="M206.5 920.5L213.5 936.500H292.5L299.5 920.5" fill="#d4d0c8" stroke="#000" stroke-width="1"/><text x="254.5" y="932.500" font-size="11.300" text-anchor="middle" fill="#000" font-family="Liberation Sans, sans-serif">MACD 19, 39, 9</text><path d="M292.5 920.5L299.5 936.500H375.5L382.5 920.5" fill="#d4d0c8" stroke="#000" stroke-width="1"/><text x="338.5" y="932.500" font-size="11.300" text-anchor="middle" fill="#000" font-family="Liberation Sans, sans-serif">Money Flow 11</text><path d="M375.5 920.5L382.5 936.500H441.5L448.5 920.5" fill="#d4d0c8" stroke="#000" stroke-width="1"/><text x="413.5" y="932.500" font-size="11.300" text-anchor="middle" fill="#000" font-family="Liberation Sans, sans-serif">RSI 14, 7, 3</text><path d="M441.5 920.5L448.5 936.500H500.5L507.5 920.5" fill="#d4d0c8" stroke="#000" stroke-width="1"/><text x="475" y="932.500" font-size="11.300" text-anchor="middle" fill="#000" font-family="Liberation Sans, sans-serif">RSI 2, 7, 3</text><path d="M500.5 920.5L507.5 936.500H606.5L613.5 920.5" fill="#d4d0c8" stroke="#000" stroke-width="1"/><text x="557.5" y="932.500" font-size="11.300" text-anchor="middle" fill="#000" font-family="Liberation Sans, sans-serif">On Balance Volume</text><path d="M112.0 919.5L119.0 936.500H168.5L175.5 919.5" fill="#fff" stroke="#000" stroke-width="1"/><path d="M113.0 919.500H174.5" stroke="#fff" stroke-width="2.500"/><text x="144" y="932.500" font-size="11.300" text-anchor="middle" fill="#000" font-family="Liberation Sans, sans-serif">Osc 5,35</text></svg>
<div class="a" style="left:77px;top:941px;width:1112px;height:22px;border:1px solid #000;border-width:2px 1px 2px 1px;box-shadow:inset 0 1px 0 #fff,0 1px 0 #fff"></div>
<div class="a" style="left:108px;top:944px;width:1px;height:17px;background:#000"></div>
<div class="a" style="left:110px;top:945px;font-weight:bold;font-size:13px;line-height:15px">Dec</div>
<div class="a" style="left:248px;top:944px;width:1px;height:17px;background:#000"></div>
<div class="a" style="left:250px;top:945px;font-weight:bold;font-size:13px;line-height:15px">2024</div>
<div class="a" style="left:396px;top:944px;width:1px;height:17px;background:#000"></div>
<div class="a" style="left:398px;top:945px;font-weight:bold;font-size:13px;line-height:15px">Feb</div>
<div class="a" style="left:536px;top:944px;width:1px;height:17px;background:#000"></div>
<div class="a" style="left:538px;top:945px;font-weight:bold;font-size:13px;line-height:15px">Mar</div>
<div class="a" style="left:676px;top:944px;width:1px;height:17px;background:#000"></div>
<div class="a" style="left:678px;top:945px;font-weight:bold;font-size:13px;line-height:15px">Apr</div>
<div class="a cream" style="left:696px;top:944px;width:56px;height:17px;border:1px solid #000;font-weight:bold;font-size:13px;line-height:15px;padding-left:3px">04/10/24</div>
<div class="a cream" style="left:1189px;top:942px;width:60px;height:20px;border-top:1px solid #404040;border-left:1px solid #404040;border-bottom:1px solid #fff;color:#00f;font-weight:bold;font-size:12px;line-height:18px;text-align:center">#2997</div>
</body></html>
